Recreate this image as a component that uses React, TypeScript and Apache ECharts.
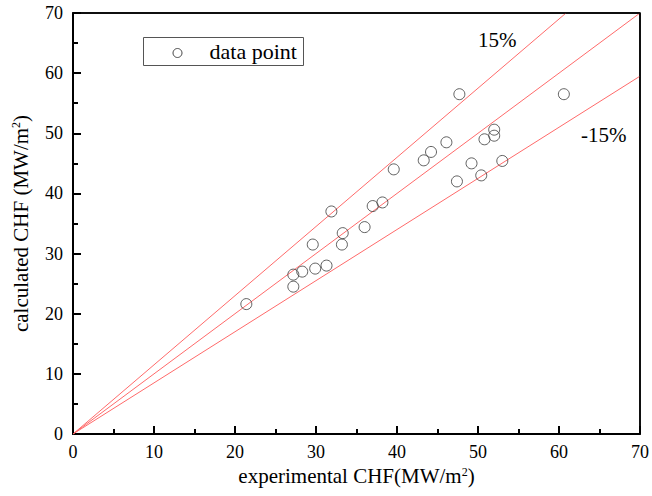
import React, { useEffect, useRef } from "react";
import * as echarts from "echarts";

// experimental CHF (x) and calculated CHF (y), MW/m²
const expCHF = [21.4, 27.2, 27.2, 28.3, 29.9, 31.3, 29.6, 31.9, 33.2, 33.3, 36.0, 37.0, 38.2, 39.6, 43.3, 44.2, 46.1, 47.7, 60.6, 47.4, 49.2, 50.4, 50.8, 52.0, 52.0, 53.0];
const calcCHF = [21.6, 26.5, 24.5, 27.0, 27.5, 28.0, 31.5, 37.0, 31.5, 33.4, 34.4, 37.9, 38.5, 44.0, 45.5, 46.9, 48.5, 56.5, 56.5, 42.0, 45.0, 43.0, 49.0, 50.6, 49.6, 45.4];

// reference lines: y = x, +15 %, -15 %
const lineCenter = [[0, 0], [70, 70]];
const linePlus15 = [[0, 0], [70 / 1.15, 70]];
const lineMinus15 = [[0, 0], [70, 59.5]];

const axisMin = 0;
const axisMax = 70;
const FONT = "'Liberation Serif', 'Times New Roman', serif";

export default function App() {
  const ref = useRef<HTMLDivElement>(null);
  useEffect(() => {
    document.body.style.margin = "0";
    const chart = echarts.init(ref.current!, null, { renderer: "svg" });
    const points = expCHF.map((x, i) => [x, calcCHF[i]]);
    const refLine = (data: number[][]) => ({
      type: "line",
      data,
      symbol: "none",
      silent: true,
      lineStyle: { color: "#ff6a6a", width: 1 },
    });
    const rich = {
      t: { fontSize: 21, fontFamily: FONT, color: "#000" },
      s: { fontSize: 12, fontFamily: FONT, color: "#000", verticalAlign: "top" },
    };
    const mainX: any = {
      type: "value", min: axisMin, max: axisMax, interval: 10,
      name: "{t|experimental CHF(MW/m}{s|2}{t|)}",
      nameLocation: "middle", nameGap: 30, nameTextStyle: { rich },
      axisLine: { show: true, lineStyle: { color: "#000", width: 2 } },
      axisTick: { show: true, inside: true, length: 8, lineStyle: { color: "#000", width: 2 } },
      minorTick: { show: true, splitNumber: 2, length: 5, lineStyle: { color: "#000", width: 2 } },
      splitLine: { show: false },
      axisLabel: { color: "#000", fontSize: 18, fontFamily: FONT, margin: 9 },
    };
    const mainY: any = {
      type: "value", min: axisMin, max: axisMax, interval: 10,
      name: "{t|calculated CHF (MW/m}{s|2}{t|)}",
      nameLocation: "middle", nameGap: 42, nameRotate: 90, nameTextStyle: { rich },
      axisLine: { show: true, lineStyle: { color: "#000", width: 2 } },
      axisTick: { show: true, inside: true, length: 8, lineStyle: { color: "#000", width: 2 } },
      minorTick: { show: true, splitNumber: 2, length: 5, lineStyle: { color: "#000", width: 2 } },
      splitLine: { show: false },
      axisLabel: { color: "#000", fontSize: 18, fontFamily: FONT, margin: 10 },
    };
    chart.setOption({
      animation: false,
      backgroundColor: "#fff",
      grid: { left: 73, right: 10, top: 13, bottom: 62, show: true, borderColor: "#000", borderWidth: 1.5 },
      xAxis: mainX,
      yAxis: mainY,
      graphic: [
        {
          type: "group",
          left: 143,
          top: 37,
          children: [
            { type: "rect", shape: { x: 0, y: 0, width: 160, height: 28 }, style: { fill: "#fff", stroke: "#555", lineWidth: 1 } },
            { type: "circle", shape: { cx: 34, cy: 15.5, r: 4.5 }, style: { fill: "#fff", stroke: "#444", lineWidth: 1 } },
            { type: "text", x: 66, y: 14, style: { text: "data point", fontSize: 22, fontFamily: FONT, fill: "#000", verticalAlign: "middle" } },
          ],
        },
        { type: "text", left: 478, top: 29, style: { text: "15%", fontSize: 21, fontFamily: FONT, fill: "#000" } },
        { type: "text", left: 581, top: 124, style: { text: "-15%", fontSize: 21, fontFamily: FONT, fill: "#000" } },
      ],
      series: [
        refLine(linePlus15),
        {
          ...refLine(lineCenter),
          clip: false,
          markLine: {
            silent: true,
            symbol: ["none", "none"],
            label: { show: false },
            lineStyle: { type: "solid", color: "#000", width: 1.5 },
            data: [{ yAxis: axisMax }, { xAxis: axisMax }],
          },
        },
        refLine(lineMinus15),
        {
          name: "data point",
          type: "scatter",
          data: points,
          symbol: "circle",
          symbolSize: 11,
          itemStyle: { color: "rgba(255,255,255,0)", borderColor: "#3a3a3a", borderWidth: 1 },
          z: 3,
        },
      ],
    });
    return () => chart.dispose();
  }, []);
  return <div ref={ref} style={{ width: 652, height: 496 }} />;
}
